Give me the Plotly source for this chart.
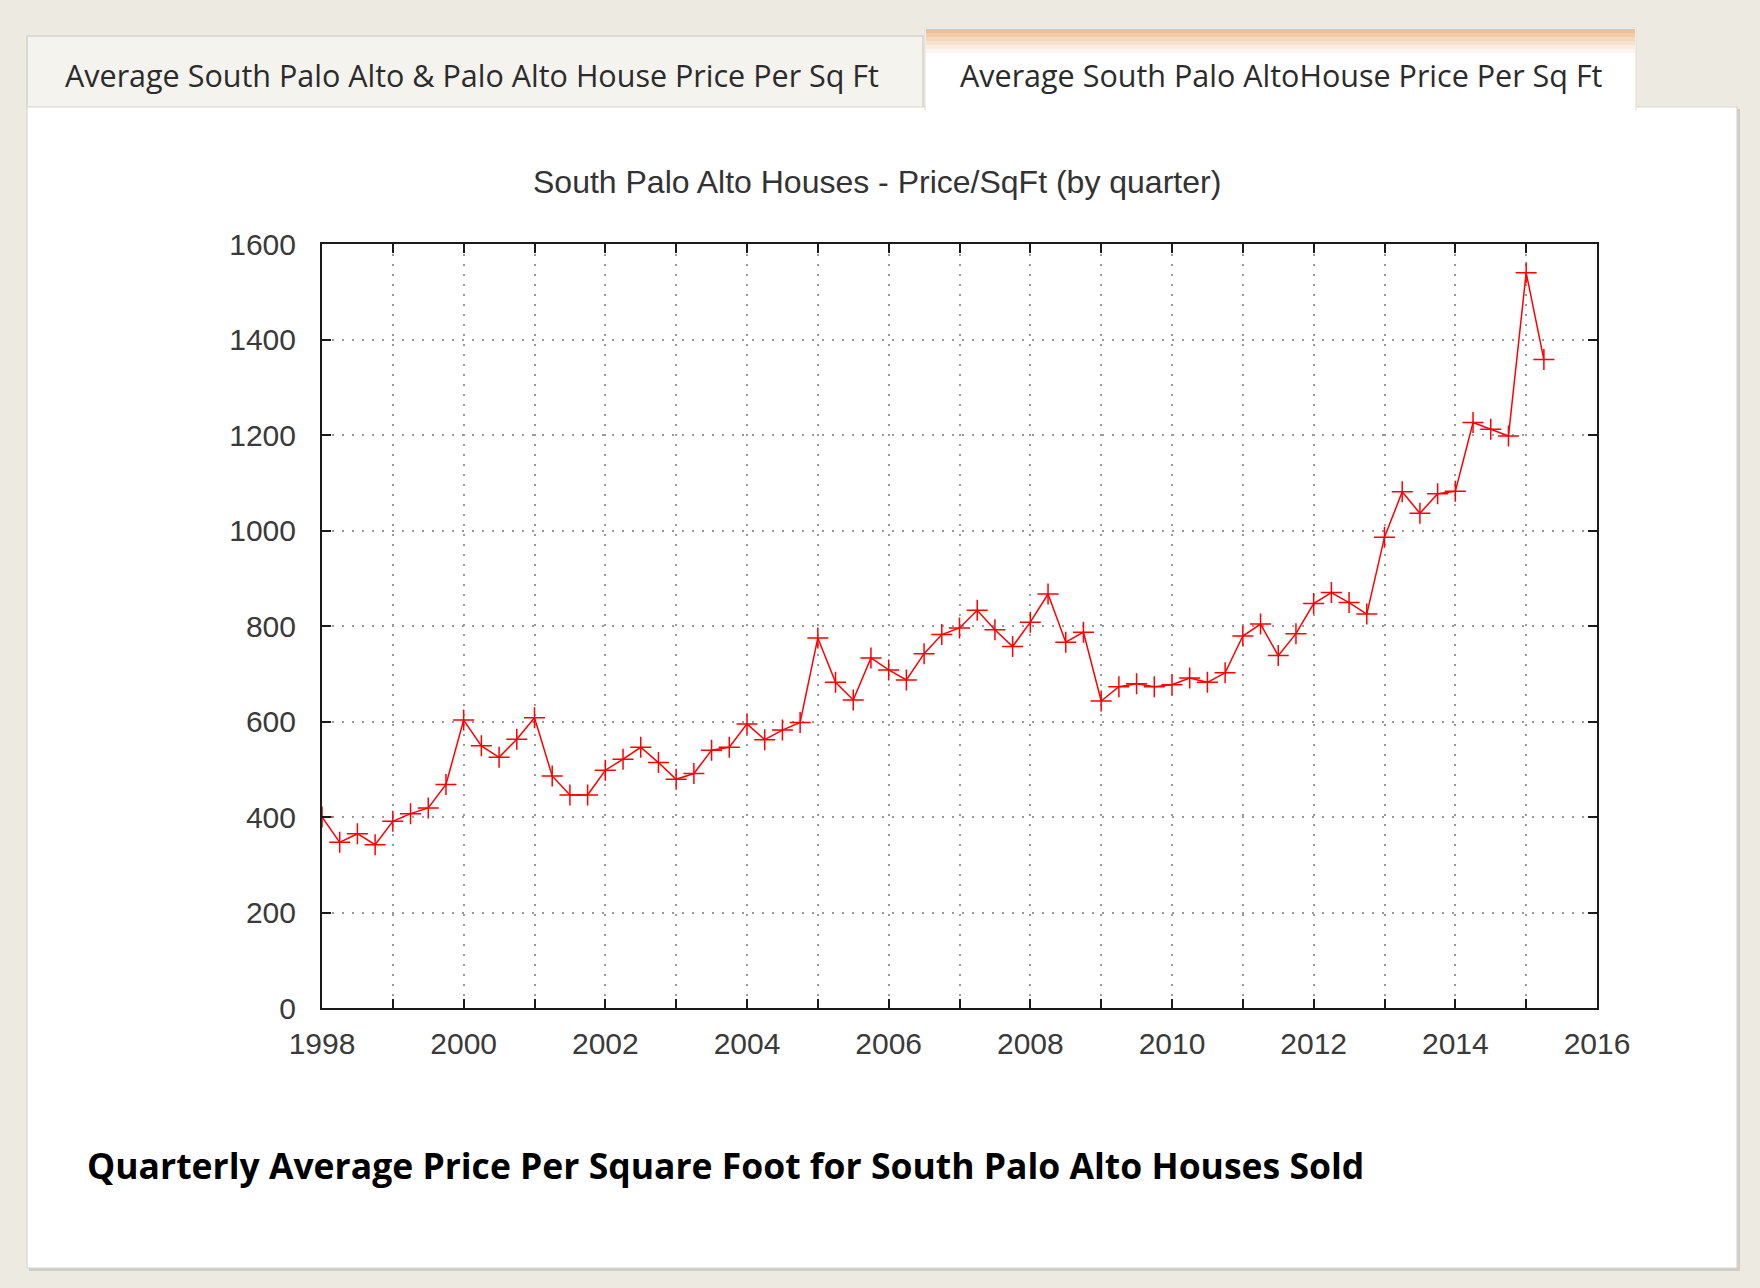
import plotly.graph_objects as go

# ---- data ----
start_year = 1998
price_per_sqft = [
    400, 347, 365, 342,      # 1998
    391, 407, 419, 468,      # 1999
    603, 549, 525, 563,      # 2000
    608, 486, 446, 446,      # 2001
    498, 521, 546, 514,      # 2002
    479, 491, 540, 546,      # 2003
    595, 562, 582, 598,      # 2004
    775, 682, 645, 733,      # 2005
    708, 687, 742, 782,      # 2006
    796, 833, 792, 757,      # 2007
    808, 867, 766, 787,      # 2008
    643, 673, 679, 673,      # 2009
    677, 691, 682, 702,      # 2010
    779, 804, 738, 784,      # 2011
    847, 870, 849, 825,      # 2012
    986, 1081, 1036, 1077,   # 2013
    1082, 1226, 1212, 1198,  # 2014
    1540, 1358,              # 2015
]
x_tick_vals = list(range(1998, 2017))
x_tick_text = [str(v) if v % 2 == 0 else "" for v in x_tick_vals]
y_tick_vals = [0, 200, 400, 600, 800, 1000, 1200, 1400, 1600]

chart_title = "South Palo Alto Houses - Price/SqFt (by quarter)"
tab1_text = "Average South Palo Alto &amp; Palo Alto House Price Per Sq Ft"
tab2_text = "Average South Palo AltoHouse Price Per Sq Ft"
caption_text = "Quarterly Average Price Per Square Foot for South Palo Alto Houses Sold"

quarters = [start_year + 0.25 * i for i in range(len(price_per_sqft))]

# ---- geometry (pixels) ----
W, H = 1760, 1288
PL, PR, PT, PB = 322, 1597, 244, 1008


def px(x):
    return (x - PL) / (PR - PL)


def py(y):
    return (PB - y) / (PB - PT)


fig = go.Figure()
fig.add_trace(go.Scatter(
    x=quarters, y=price_per_sqft, mode="lines+markers",
    line=dict(color="#ff0000", width=1.5),
    marker=dict(symbol="cross-thin", size=15, line=dict(color="#ff0000", width=1.5)),
    showlegend=False, hoverinfo="x+y",
))

shapes = []


def rect(x0, y0, x1, y1, fill, line_color=None, lw=0, layer="below"):
    shapes.append(dict(
        type="rect", xref="paper", yref="paper",
        x0=px(x0), x1=px(x1), y0=py(y1), y1=py(y0),
        fillcolor=fill, line=dict(color=line_color or fill, width=lw), layer=layer,
    ))


# inactive tab
rect(27, 36, 923, 108, "#f4f3ee", "#d6d4cc", 1.5)
# panel shadow + panel
rect(29, 109, 1740, 1271, "#cfcdc6")
rect(27, 107, 1737, 1268, "#ffffff", "#d8d6cf", 1.2)
# active tab with orange gradient top
rect(925, 28, 1636, 110, "#ffffff", "#dedcd4", 1.0)
grad = ["#eebf98", "#f2cba9", "#f5d7bb", "#f8e2cf", "#fbede2", "#fdf6f0"]
for i, c in enumerate(grad):
    rect(926, 29 + i * 4, 1635, 33 + i * 4, c)
rect(926, 100, 1635, 112, "#ffffff")

annotations = [
    dict(text=tab1_text, x=px(63), y=py(75), xanchor="left", yanchor="middle",
         font=dict(family="Open Sans", size=30.5, color="#2b2b2b")),
    dict(text=tab2_text, x=px(958), y=py(75), xanchor="left", yanchor="middle",
         font=dict(family="Open Sans", size=30.5, color="#2b2b2b")),
    dict(text=chart_title, x=px(877), y=py(182), xanchor="center", yanchor="middle",
         font=dict(family="Liberation Sans", size=32, color="#333333")),
    dict(text="<b>" + caption_text + "</b>", x=px(85), y=py(1165), xanchor="left", yanchor="middle",
         font=dict(family="Open Sans", size=35.5, color="#000000")),
]
for a in annotations:
    a.update(xref="paper", yref="paper", showarrow=False)

axis_common = dict(
    showline=True, linecolor="#1a1a1a", linewidth=2, mirror="ticks",
    ticks="inside", ticklen=9, tickwidth=2, tickcolor="#1a1a1a",
    showgrid=True, gridcolor="#9a9a9a", gridwidth=1.5, griddash="2px,8px",
    zeroline=False, tickfont=dict(family="Liberation Sans", size=30, color="#3a3a3a"),
)

fig.update_layout(
    width=W, height=H,
    margin=dict(l=PL, r=W - PR, t=PT, b=H - PB, pad=0),
    paper_bgcolor="#edebe1", plot_bgcolor="#ffffff",
    xaxis=dict(range=[1998, 2016], tickmode="array", tickvals=x_tick_vals,
               ticktext=x_tick_text, ticklabelstandoff=8, **axis_common),
    yaxis=dict(range=[0, 1600], tickmode="array", tickvals=y_tick_vals,
               ticklabelstandoff=18, **axis_common),
    shapes=shapes, annotations=annotations,
)

fig.write_html(
    "out.html",
    config={"displayModeBar": False},
    post_script="document.body.style.margin='0';document.body.style.padding='0';"
                "document.body.style.background='#edebe1';document.body.style.overflow='hidden';",
)
